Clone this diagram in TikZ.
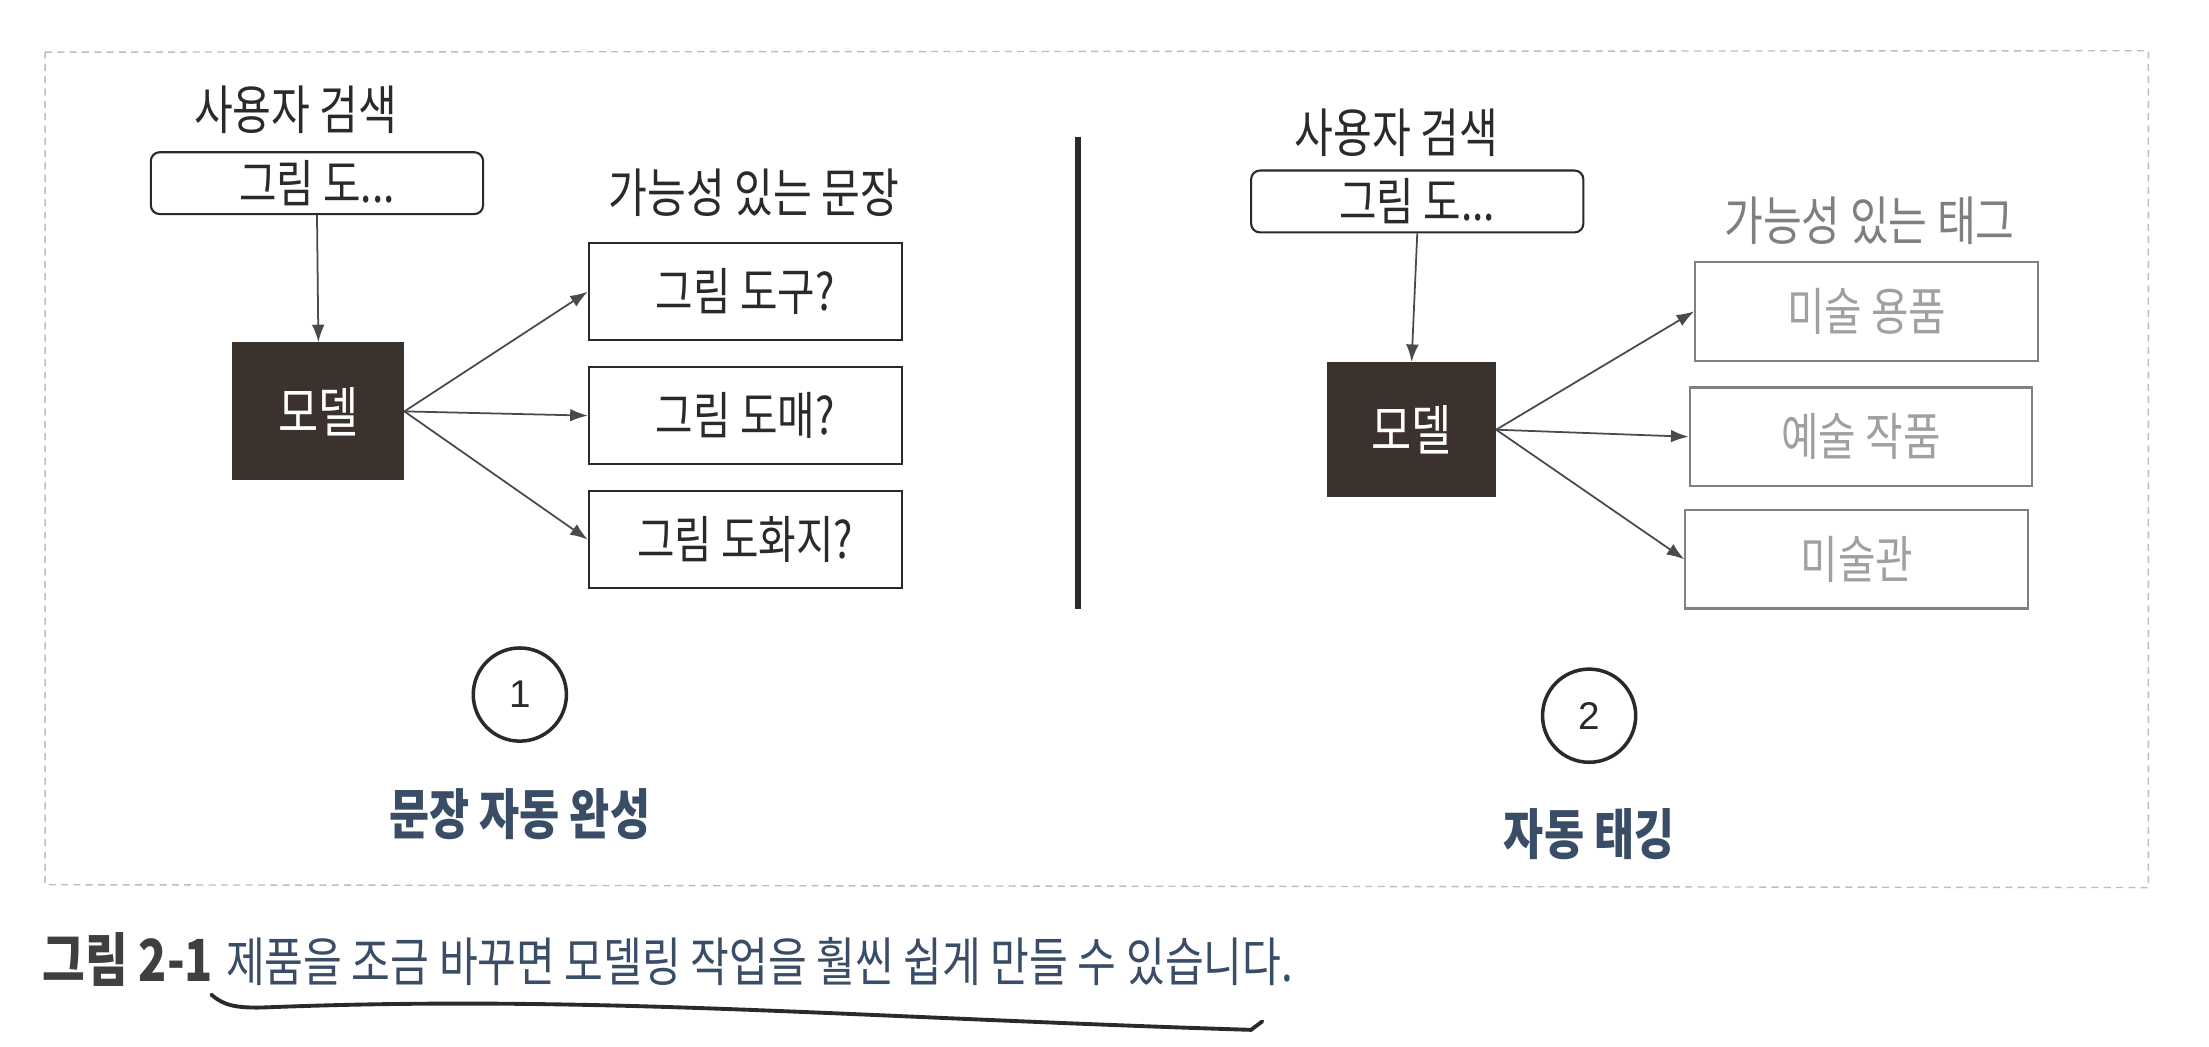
\documentclass[tikz,border=0pt]{standalone}
\usepackage{fontspec}
\setmainfont{Noto Sans CJK KR}[FakeStretch=0.8]
\newfontfamily\numfont{Liberation Sans}
\usetikzlibrary{arrows.meta}
\definecolor{ink}{HTML}{2A2A2A}
\definecolor{modelfill}{HTML}{3B312D}
\definecolor{capblue}{HTML}{3A4D66}
\definecolor{tagtext}{HTML}{A0A0A0}
\definecolor{tagline}{HTML}{808080}
\definecolor{framec}{HTML}{BDBDBD}
\begin{document}
\begin{tikzpicture}[x=0.014088cm,y=-0.014088cm,
  txt/.style={font=\fontsize{15}{17}\selectfont, text=ink, inner sep=0pt},
  query/.style={draw=ink, line width=0.6pt, rounded corners=2.5pt, fill=white, minimum width=94.5pt, minimum height=17.6pt, inner sep=0pt, font=\fontsize{14.5}{16}\selectfont, text=ink},
  model/.style={fill=modelfill, draw=modelfill, minimum width=48.5pt, minimum height=38.9pt, inner sep=0pt, font=\fontsize{15.5}{17}\selectfont, text=white},
  sent/.style={draw=ink, line width=0.6pt, minimum width=89pt, minimum height=27.7pt, inner sep=0pt, font=\fontsize{14.5}{16}\selectfont, text=ink},
  tag/.style={draw=tagline, line width=0.6pt, minimum width=97.5pt, minimum height=28pt, inner sep=0pt, font=\fontsize{14.5}{16}\selectfont, text=tagtext},
  arr/.style={draw=ink!85, line width=0.5pt, -{Latex[length=5pt,width=3.6pt]}},
  num/.style={circle, draw=ink, line width=1pt, minimum size=26.5pt, inner sep=0pt, font=\numfont\fontsize{11}{13}\selectfont, text=ink},
  title/.style={font=\fontsize{15.5}{17}\selectfont\bfseries, text=capblue, inner sep=0pt},
  frame/.style={draw=framec, line width=0.4pt, dash pattern=on 2pt off 1.5pt}
]
\useasboundingbox (0,0) rectangle (1568,743);
\fill[white] (0,0) rectangle (1568,743);
% dashed frame
\draw[frame] (32,37) -- (1525,36) -- (1525,630) -- (32,628) -- cycle;

% ---------- left panel ----------
\node[txt] (u1) at (210,78) {사용자 검색};
\node[query] (q1) at (225,130) {그림 도...};
\node[model] (m1) at (226,292) {모델};
\node[txt] (h1) at (535,137) {가능성 있는 문장};
\node[sent] (s1) at (529,207) {그림 도구?};
\node[sent] (s2) at (529,295) {그림 도매?};
\node[sent] (s3) at (529,383) {그림 도화지?};
\draw[arr] (q1.south) -- (m1.north);
\draw[arr] (m1.east) -- (s1.west);
\draw[arr] (m1.east) -- (s2.west);
\draw[arr] (m1.east) -- (s3.west);
\node[num] (n1) at (369,493) {1};
\node[title] (t1) at (369,578) {문장 자동 완성};

% divider
\coordinate (dtop) at (765,97);
\coordinate (dbot) at (765,432);
\draw[ink, line width=1.6pt] (dtop) -- (dbot);

% ---------- right panel ----------
\node[txt] (u2) at (991,94) {사용자 검색};
\node[query] (q2) at (1006,143) {그림 도...};
\node[model, minimum width=47.7pt, minimum height=38.1pt] (m2) at (1002,305) {모델};
\node[txt, text=ink!60] (h2) at (1327,157) {가능성 있는 태그};
\node[tag] (g1) at (1325,221) {미술 용품};
\node[tag] (g2) at (1321,310) {예술 작품};
\node[tag] (g3) at (1318,397) {미술관};
\draw[arr] (q2.south) -- (m2.north);
\draw[arr] (m2.east) -- (g1.west);
\draw[arr] (m2.east) -- (g2.west);
\draw[arr] (m2.east) -- (g3.west);
\node[num] (n2) at (1128,508) {2};
\node[title] (t2) at (1128,592) {자동 태깅};

% ---------- caption ----------
\node[anchor=base west, inner sep=0pt, font=\fontsize{16.5}{18}\selectfont\bfseries, text=ink!90] (c1) at (30,697) {그림 2-1};
\node[anchor=base west, inner sep=0pt, font=\fontsize{15}{17}\selectfont, text=capblue] (c2) at (160,697) {제품을 조금 바꾸면 모델링 작업을 훨씬 쉽게 만들 수 있습니다.};
\draw[ink, line width=1.1pt, line cap=round]
  (150,706) .. controls (158,713) and (166,716) .. (190,715)
  .. controls (420,706) and (600,722) .. (888,731) -- (896,725);
\end{tikzpicture}
\end{document}
